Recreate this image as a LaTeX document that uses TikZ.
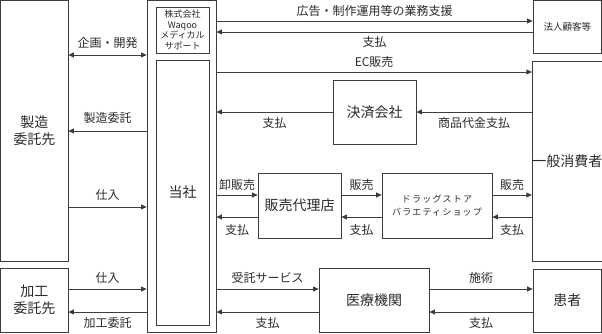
\documentclass[tikz,border=0pt]{standalone}
\usepackage{fontspec}
\setmainfont{Noto Sans CJK JP}
\usetikzlibrary{arrows.meta}
\definecolor{ln}{HTML}{3C3C3C}
\definecolor{tx}{HTML}{2A2A2A}
\tikzset{
  box/.style={draw=ln,line width=0.8pt,inner sep=0pt,text=tx,align=center,font=\fontsize{14}{17}\selectfont},
  arr/.style={draw=ln,line width=0.8pt,-{Triangle[length=5.5pt,width=5pt]}},
  darr/.style={draw=ln,line width=0.8pt,{Triangle[length=5.5pt,width=5pt]}-{Triangle[length=5.5pt,width=5pt]}},
  lab/.style={text=tx,inner sep=0pt,font=\fontsize{12}{13}\selectfont},
}
\begin{document}
\begin{tikzpicture}[x=1pt,y=-1pt]
\useasboundingbox (0,0) rectangle (602,333);
% boxes
\node[box,minimum width=67.5pt,minimum height=260.5pt] (mfg) at (34.25,130.75) {製造\\委託先};
\node[box,minimum width=67.5pt,minimum height=64.5pt] (kako) at (34.25,300.25) {加工\\委託先};
\node[box,minimum width=69pt,minimum height=331.5pt] (outer) at (181.5,166.25) {};
\node[box,minimum width=53pt,minimum height=46pt,font=\fontsize{9}{10.5}\selectfont] (waqoo) at (182.5,30) {株式会社\\Waqoo\\メディカル\\サポート};
\node[box,minimum width=53pt,minimum height=265pt] (tosha) at (182.5,192.5) {当社};
\node[box,minimum width=68.5pt,minimum height=52.5pt,font=\fontsize{9.5}{11}\selectfont] (houjin) at (567.25,26.75) {法人顧客等};
\node[box,minimum width=68.5pt,minimum height=200pt] (ippan) at (567.25,161) {一般消費者};
\node[box,minimum width=68.5pt,minimum height=63pt] (kanja) at (567.25,300.5) {患者};
\node[box,minimum width=83pt,minimum height=64pt] (kessai) at (374.5,112) {決済会社};
\node[box,minimum width=83pt,minimum height=65pt] (dairi) at (299.5,205.5) {販売代理店};
\node[box,minimum width=110pt,minimum height=65pt,font=\fontsize{9}{13}\selectfont\addfontfeatures{LetterSpace=13}] (drug) at (437,205.5) {ドラッグストア\\バラエティショップ};
\node[box,minimum width=110pt,minimum height=64pt] (iryo) at (374,300) {医療機関};
% level coordinates
\coordinate (y21) at (0,21);
\coordinate (y32) at (0,32);
\coordinate (y55) at (0,55);
\coordinate (y72) at (0,72);
\coordinate (y112) at (0,112);
\coordinate (y131) at (0,131);
\coordinate (y195) at (0,195);
\coordinate (y207) at (0,207);
\coordinate (y217) at (0,217);
\coordinate (y289) at (0,289);
\coordinate (y312) at (0,312);
% left side
\draw[darr] (mfg.east |- y55) -- (outer.west |- y55) node[lab,midway,yshift=12pt] {企画・開発};
\draw[arr] (outer.west |- y131) -- (mfg.east |- y131) node[lab,midway,yshift=13pt] {製造委託};
\draw[arr] (mfg.east |- y207) -- (outer.west |- y207) node[lab,midway,yshift=12pt] {仕入};
\draw[arr] (kako.east |- y289) -- (outer.west |- y289) node[lab,midway,yshift=11pt] {仕入};
\draw[arr] (outer.west |- y312) -- (kako.east |- y312) node[lab,midway,yshift=-11pt] {加工委託};
% top right
\draw[arr] (outer.east |- y21) -- (houjin.west |- y21) node[lab,midway,yshift=10pt] {広告・制作運用等の業務支援};
\draw[arr] (houjin.west |- y32) -- (outer.east |- y32) node[lab,midway,yshift=-10pt] {支払};
\draw[arr] (outer.east |- y72) -- (ippan.west |- y72) node[lab,midway,yshift=10pt] {EC販売};
\draw[arr] (ippan.west |- y112) -- (kessai.east |- y112) node[lab,midway,yshift=-11pt] {商品代金支払};
\draw[arr] (kessai.west |- y112) -- (outer.east |- y112) node[lab,midway,yshift=-11pt] {支払};
% sales row
\draw[arr] (outer.east |- y195) -- (dairi.west |- y195) node[lab,midway,yshift=10pt] {卸販売};
\draw[arr] (dairi.west |- y217) -- (outer.east |- y217) node[lab,midway,yshift=-13pt] {支払};
\draw[arr] (dairi.east |- y195) -- (drug.west |- y195) node[lab,midway,yshift=10pt] {販売};
\draw[arr] (drug.west |- y217) -- (dairi.east |- y217) node[lab,midway,yshift=-13pt] {支払};
\draw[arr] (drug.east |- y195) -- (ippan.west |- y195) node[lab,midway,yshift=10pt] {販売};
\draw[arr] (ippan.west |- y217) -- (drug.east |- y217) node[lab,midway,yshift=-13pt] {支払};
% bottom row
\draw[arr] (outer.east |- y289) -- (iryo.west |- y289) node[lab,midway,yshift=11pt] {受託サービス};
\draw[arr] (iryo.west |- y312) -- (outer.east |- y312) node[lab,midway,yshift=-11pt] {支払};
\draw[arr] (iryo.east |- y289) -- (kanja.west |- y289) node[lab,midway,yshift=11pt] {施術};
\draw[arr] (kanja.west |- y312) -- (iryo.east |- y312) node[lab,midway,yshift=-11pt] {支払};
\end{tikzpicture}
\end{document}
